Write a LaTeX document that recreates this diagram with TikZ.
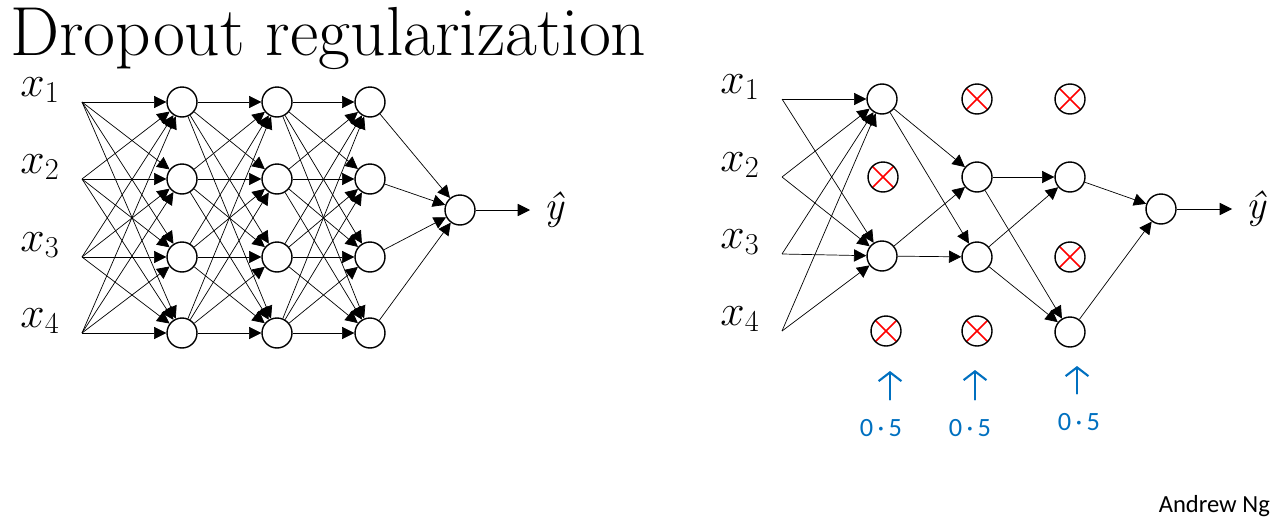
\documentclass[tikz,border=0pt]{standalone}
\usepackage{fontspec}
\newfontfamily\ngfont{Carlito}
\usetikzlibrary{positioning,arrows.meta}
\definecolor{pen}{RGB}{0,112,192}

\begin{document}
\begin{tikzpicture}[
    x=0.02cm, y=-0.02cm,
    unit/.style={circle, draw, line width=0.8pt, minimum size=0.6cm, inner sep=0pt},
    dropped/.style={unit, path picture={
        \draw[red, line width=0.9pt]
            (path picture bounding box.north west) -- (path picture bounding box.south east)
            (path picture bounding box.north east) -- (path picture bounding box.south west);}},
    link/.style={line width=0.4pt, -{Triangle[length=7pt, width=7pt]}},
    xlab/.style={inner sep=0pt, font=\fontsize{23}{26}\selectfont},
    hand/.style={pen, line width=1.2pt, line cap=round, -{Straight Barb[length=5pt, width=13pt]}},
    handtext/.style={pen, inner sep=0pt, font=\ngfont\fontsize{15}{17}\selectfont}
]
    \useasboundingbox (0,0) rectangle (1283,521);

    \node[anchor=base west, inner sep=0pt, font=\fontsize{39.5}{42}\selectfont] (title) at (10,55) {Dropout regularization};

    % full network
    \foreach \y [count=\i] in {102,179,257,333} {
        \coordinate (a0-\i) at (82,\y);
        \node[xlab] (xa\i) at (40,\y-12) {$x_\i$};
        \node[unit] (a1-\i) at (182,\y) {};
        \node[unit] (a2-\i) at (277,\y) {};
        \node[unit] (a3-\i) at (370,\y) {};
    }
    \node[unit] (a4) at (460,210) {};
    \coordinate (aout) at (530,210);

    \foreach \i in {1,...,4}
        \foreach \j in {1,...,4} {
            \draw[link] (a0-\i) -- (a1-\j);
            \draw[link] (a1-\i) -- (a2-\j);
            \draw[link] (a2-\i) -- (a3-\j);
        }
    \foreach \i in {1,...,4}
        \draw[link] (a3-\i) -- (a4);
    \draw[link] (a4) -- (aout);
    \node[xlab, right=8pt of aout] (yhata) {\itshape ŷ};

    % thinned network
    \foreach \y [count=\i] in {99,177,254,331} {
        \coordinate (b0-\i) at (782,\y);
        \node[xlab] (xb\i) at (740,\y-12) {$x_\i$};
    }
    \node[unit]    (b1-1) at (882,99) {};
    \node[dropped] (b1-2) at (883,177) {};
    \node[unit]    (b1-3) at (882,256) {};
    \node[dropped] (b1-4) at (886,331) {};
    \node[dropped] (b2-1) at (977,99) {};
    \node[unit]    (b2-2) at (977,177) {};
    \node[unit]    (b2-3) at (977,257) {};
    \node[dropped] (b2-4) at (977,331) {};
    \node[dropped] (b3-1) at (1070,99) {};
    \node[unit]    (b3-2) at (1070,177) {};
    \node[dropped] (b3-3) at (1070,257) {};
    \node[unit]    (b3-4) at (1070,332) {};
    \node[unit]    (b4) at (1161,209) {};
    \coordinate (bout) at (1232,209);

    \foreach \i in {1,...,4}
        \foreach \j in {1,3}
            \draw[link] (b0-\i) -- (b1-\j);
    \foreach \i in {1,3}
        \foreach \j in {2,3}
            \draw[link] (b1-\i) -- (b2-\j);
    \foreach \i in {2,3}
        \foreach \j in {2,4}
            \draw[link] (b2-\i) -- (b3-\j);
    \foreach \i in {2,4}
        \draw[link] (b3-\i) -- (b4);
    \draw[link] (b4) -- (bout);
    \node[xlab, right=8pt of bout] (yhatb) {\itshape ŷ};

    % keep probabilities
    \node[handtext] (p1) at (881,428) {0\,·\,5};
    \node[handtext] (p2) at (970,428) {0\,·\,5};
    \node[handtext] (p3) at (1079,422) {0\,·\,5};
    \coordinate (q1) at (890,371);
    \coordinate (q2) at (975,370);
    \coordinate (q3) at (1077,366);
    \draw[hand, shorten <=11pt] (p1.north -| q1) -- (q1);
    \draw[hand, shorten <=11pt] (p2.north -| q2) -- (q2);
    \draw[hand, shorten <=11pt] (p3.north -| q3) -- (q3);

    \node[anchor=base east, font=\ngfont\fontsize{14}{16}\selectfont] (author) at (1276,512) {Andrew Ng};
\end{tikzpicture}
\end{document}
